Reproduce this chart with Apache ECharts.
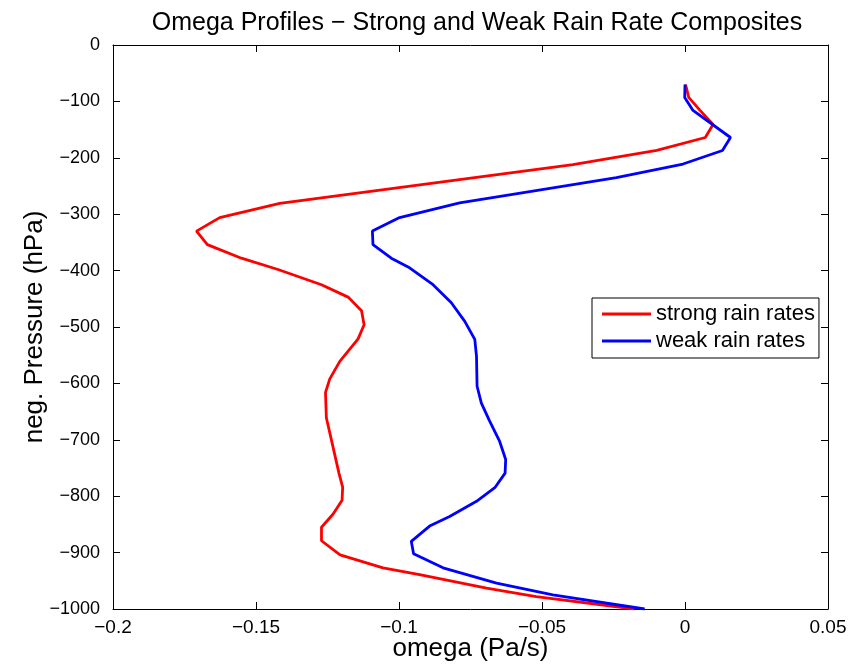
<!DOCTYPE html>
<html>
<head>
<meta charset="utf-8">
<script src="https://cdn.jsdelivr.net/npm/echarts@6/dist/echarts.min.js"></script>
<style>
html,body{margin:0;padding:0;background:#fff;}
#chart{width:855px;height:668px;}
</style>
</head>
<body>
<div id="chart"></div>
<script>
// strong rain rates profile
var strongP = [-70,-93,-115,-141,-164,-187,-212,-281,-306,-330,-354,-378,-398,-425,-447,-471,-496,-521,-561,-592,-616,-661,-712,-759,-784,-807,-832,-855,-879,-904,-927,-939,-951,-963,-978,-1000];
var strongW = [0.0002,0.0013,0.0051,0.0098,0.0071,-0.0099,-0.0392,-0.1417,-0.1627,-0.1708,-0.167,-0.1551,-0.1423,-0.1271,-0.1178,-0.1131,-0.1122,-0.1143,-0.1207,-0.1242,-0.1257,-0.1254,-0.1231,-0.121,-0.1197,-0.1199,-0.1231,-0.1271,-0.1271,-0.1206,-0.1056,-0.0928,-0.0811,-0.0694,-0.052,-0.0176];
// weak rain rates profile
var weakP = [-70,-93,-116,-164,-187,-211,-235,-260,-280,-306,-330,-354,-378,-395,-425,-457,-490,-522,-552,-605,-635,-667,-703,-735,-759,-785,-809,-836,-853,-880,-902,-927,-954,-975,-1000];
var weakW = [0.0,-0.0001,0.0028,0.0159,0.0131,-0.0007,-0.024,-0.0543,-0.0788,-0.0998,-0.1093,-0.1091,-0.1027,-0.0963,-0.0881,-0.0817,-0.077,-0.0735,-0.0729,-0.0727,-0.0712,-0.0683,-0.0648,-0.0627,-0.0629,-0.0665,-0.0729,-0.0823,-0.0893,-0.0957,-0.0949,-0.0846,-0.0659,-0.0462,-0.0141];
var seriesNames = ['strong rain rates','weak rain rates'];

function pairs(w, p){
	var out = [];
	for (var i = 0; i < w.length; i++) out.push([w[i], p[i]]);
	return out;
}
function minus(v){
	return String(v).replace('-', '\u2212');
}

var font = '"Liberation Sans", Arial, Helvetica, sans-serif';
var myChart = echarts.init(document.getElementById('chart'));
var tickStyle = {show:true, inside:true, length:7, lineStyle:{color:'#000', width:1}};
var lineStyle = {show:true, onZero:false, lineStyle:{color:'#000', width:1}};
var option = {
	backgroundColor:'#fff',
	animation:false,
	title:{
		text:'Omega Profiles \u2212 Strong and Weak Rain Rate Composites',
		left:472,
		top:6,
		textAlign:'center',
		textStyle:{fontFamily:font, fontSize:25, fontWeight:'normal', color:'#000'}
	},
	grid:{left:113, right:27, top:45, bottom:59, outerBoundsMode:'none', containLabel:false},
	legend:{
		data:seriesNames,
		orient:'vertical',
		left:592,
		top:298,
		icon:'rect',
		itemWidth:49,
		itemHeight:3,
		itemGap:5,
		padding:[5,4,6,10],
		borderColor:'#000',
		borderWidth:1,
		backgroundColor:'#fff',
		textStyle:{fontFamily:font, fontSize:22, color:'#000', lineHeight:22}
	},
	xAxis:[{
		type:'value',
		min:-0.2, max:0.05, interval:0.05,
		position:'bottom',
		name:'omega (Pa/s)',
		nameLocation:'middle',
		nameGap:27,
		nameMoveOverlap:false,
		nameTextStyle:{fontFamily:font, fontSize:26, color:'#000'},
		axisLine:lineStyle,
		axisTick:tickStyle,
		splitLine:{show:false},
		axisLabel:{fontFamily:font, fontSize:19, color:'#000', margin:9, formatter:minus}
	},{
		type:'value',
		min:-0.2, max:0.05, interval:0.05,
		position:'top',
		axisLine:lineStyle,
		axisTick:tickStyle,
		splitLine:{show:false},
		axisLabel:{show:false}
	}],
	yAxis:[{
		type:'value',
		min:-1000, max:0, interval:100,
		position:'left',
		name:'neg. Pressure (hPa)',
		nameLocation:'middle',
		nameGap:65,
		nameMoveOverlap:false,
		nameTextStyle:{fontFamily:font, fontSize:26, color:'#000'},
		axisLine:lineStyle,
		axisTick:tickStyle,
		splitLine:{show:false},
		axisLabel:{fontFamily:font, fontSize:18, color:'#000', margin:13, formatter:minus}
	},{
		type:'value',
		min:-1000, max:0, interval:100,
		position:'right',
		axisLine:lineStyle,
		axisTick:tickStyle,
		splitLine:{show:false},
		axisLabel:{show:false}
	}],
	series:[
		{
			name:seriesNames[0],
			type:'line',
			xAxisIndex:0, yAxisIndex:0,
			showSymbol:false, symbol:'none',
			lineStyle:{color:'#ff0000', width:2.8},
			itemStyle:{color:'#ff0000'},
			data:pairs(strongW, strongP)
		},
		{
			name:seriesNames[1],
			type:'line',
			xAxisIndex:0, yAxisIndex:0,
			showSymbol:false, symbol:'none',
			lineStyle:{color:'#0000ff', width:2.8},
			itemStyle:{color:'#0000ff'},
			data:pairs(weakW, weakP)
		}
	]
};
myChart.setOption(option);
</script>
</body>
</html>
